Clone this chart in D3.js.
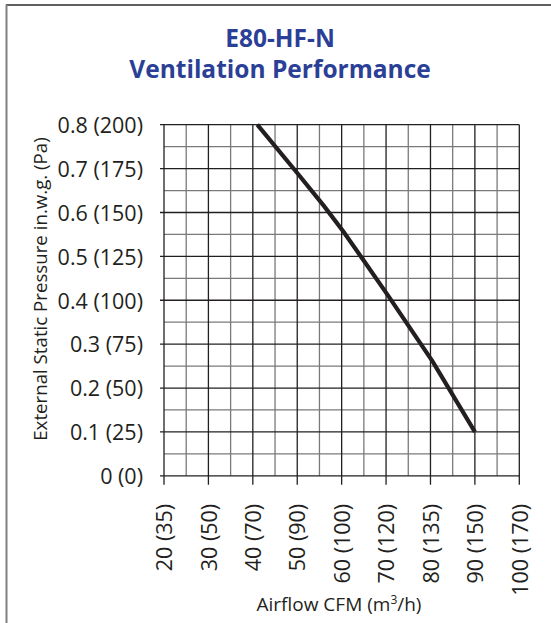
<!DOCTYPE html>
<html>
<head>
<meta charset="utf-8">
<script src="https://cdn.jsdelivr.net/npm/d3@7"></script>
<style>
    body { margin: 0; background: #fff; }
    text { font-family: "Open Sans", "DejaVu Sans", sans-serif; fill: #231f20; }
</style>
</head>
<body>
<div id="chart"></div>
<script>
    //data
    var airflow = [41, 50, 56, 60.5, 65, 70.5, 80.5, 90];
    var pressure = [0.8, 0.69, 0.615, 0.555, 0.49, 0.41, 0.26, 0.1];

    //tick labels
    var xTicks = [20, 30, 40, 50, 60, 70, 80, 90, 100];
    var xTickLabels = ["20 (35)", "30 (50)", "40 (70)", "50 (90)", "60 (100)", "70 (120)", "80 (135)", "90 (150)", "100 (170)"];
    var yTicks = [0, 0.1, 0.2, 0.3, 0.4, 0.5, 0.6, 0.7, 0.8];
    var yTickLabels = ["0 (0)", "0.1 (25)", "0.2 (50)", "0.3 (75)", "0.4 (100)", "0.5 (125)", "0.6 (150)", "0.7 (175)", "0.8 (200)"];

    var svgWidth = 551;
    var svgHeight = 623;
    var margin = {top: 124.7, right: 31.7, bottom: 147.2, left: 164};
    var width = svgWidth - margin.left - margin.right;
    var height = svgHeight - margin.top - margin.bottom;

    var svg = d3.select("#chart")
        .append("svg")
        .attr("width", svgWidth)
        .attr("height", svgHeight);

    //frame
    svg.append("line")
        .attr("x1", 6).attr("x2", svgWidth).attr("y1", 5).attr("y2", 5)
        .attr("stroke", "#2b2b2b").attr("stroke-width", 1.6);
    svg.append("line")
        .attr("x1", 6.5).attr("x2", 6.5).attr("y1", 4.5).attr("y2", svgHeight)
        .attr("stroke", "#808080").attr("stroke-width", 2);

    //title, two lines
    svg.append("text")
        .attr("x", 280).attr("y", 47)
        .attr("text-anchor", "middle")
        .style("font-weight", "bold")
        .style("font-size", "24.5px")
        .style("fill", "#2b3f96")
        .text("E80-HF-N");
    svg.append("text")
        .attr("x", 280).attr("y", 78)
        .attr("text-anchor", "middle")
        .style("font-weight", "bold")
        .style("font-size", "24.5px")
        .style("fill", "#2b3f96")
        .text("Ventilation Performance");

    var chartGroup = svg.append("g")
        .attr("transform", `translate(${margin.left}, ${margin.top})`);

    //scales
    var xScale = d3.scaleLinear().domain([20, 100]).range([0, width]);
    var yScale = d3.scaleLinear().domain([0, 0.8]).range([height, 0]);

    //minor grid
    chartGroup.append("g")
        .selectAll("line")
        .data(d3.range(25, 100, 10))
        .enter().append("line")
        .attr("x1", d => xScale(d)).attr("x2", d => xScale(d))
        .attr("y1", 0).attr("y2", height)
        .attr("stroke", "#7a7a7a").attr("stroke-width", 1.3);
    chartGroup.append("g")
        .selectAll("line")
        .data(d3.range(0.05, 0.8, 0.1))
        .enter().append("line")
        .attr("y1", d => yScale(d)).attr("y2", d => yScale(d))
        .attr("x1", 0).attr("x2", width)
        .attr("stroke", "#7a7a7a").attr("stroke-width", 1.3);

    //major grid
    chartGroup.append("g")
        .selectAll("line")
        .data(xTicks)
        .enter().append("line")
        .attr("x1", d => xScale(d)).attr("x2", d => xScale(d))
        .attr("y1", 0).attr("y2", height + 9)
        .attr("stroke", "#231f20").attr("stroke-width", 1.3);
    chartGroup.append("g")
        .selectAll("line")
        .data(yTicks)
        .enter().append("line")
        .attr("y1", d => yScale(d)).attr("y2", d => yScale(d))
        .attr("x1", -4).attr("x2", width)
        .attr("stroke", "#231f20").attr("stroke-width", 1.3);

    //axes labels
    var bottomAxis = d3.axisBottom(xScale)
        .tickValues(xTicks)
        .tickSize(0)
        .tickFormat((d, i) => xTickLabels[i]);
    var leftAxis = d3.axisLeft(yScale)
        .tickValues(yTicks)
        .tickSize(0)
        .tickFormat((d, i) => yTickLabels[i]);

    var xAxisG = chartGroup.append("g")
        .attr("transform", `translate(0, ${height})`)
        .call(bottomAxis);
    xAxisG.select(".domain").remove();
    xAxisG.selectAll("text")
        .attr("transform", "rotate(-90)")
        .attr("x", -28)
        .attr("y", 0)
        .attr("dy", "0.36em")
        .attr("text-anchor", "end")
        .style("font-size", "21.5px")
        .attr("fill", "#231f20");

    var yAxisG = chartGroup.append("g").call(leftAxis);
    yAxisG.select(".domain").remove();
    yAxisG.selectAll("text")
        .attr("x", -21)
        .attr("dy", "0.36em")
        .style("font-size", "21.5px")
        .attr("fill", "#231f20");
    svg.selectAll(".tick text").attr("font-family", null);

    //axis titles
    svg.append("text")
        .attr("x", 339)
        .attr("y", 611)
        .attr("text-anchor", "middle")
        .style("font-size", "19px")
        .html("Airflow CFM (m<tspan dy='-7' style='font-size:12px'>3</tspan><tspan dy='7'>/h)</tspan>");
    svg.append("text")
        .attr("transform", "translate(47, 289) rotate(-90)")
        .attr("text-anchor", "middle")
        .style("font-size", "18.7px")
        .text("External Static Pressure in.w.g. (Pa)");

    //curve
    var points = airflow.map((d, i) => [d, pressure[i]]);
    var line = d3.line()
        .x(d => xScale(d[0]))
        .y(d => yScale(d[1]));
    chartGroup.append("path")
        .datum(points)
        .attr("d", line)
        .attr("fill", "none")
        .attr("stroke", "#231f20")
        .attr("stroke-width", 4.2);
</script>
</body>
</html>
